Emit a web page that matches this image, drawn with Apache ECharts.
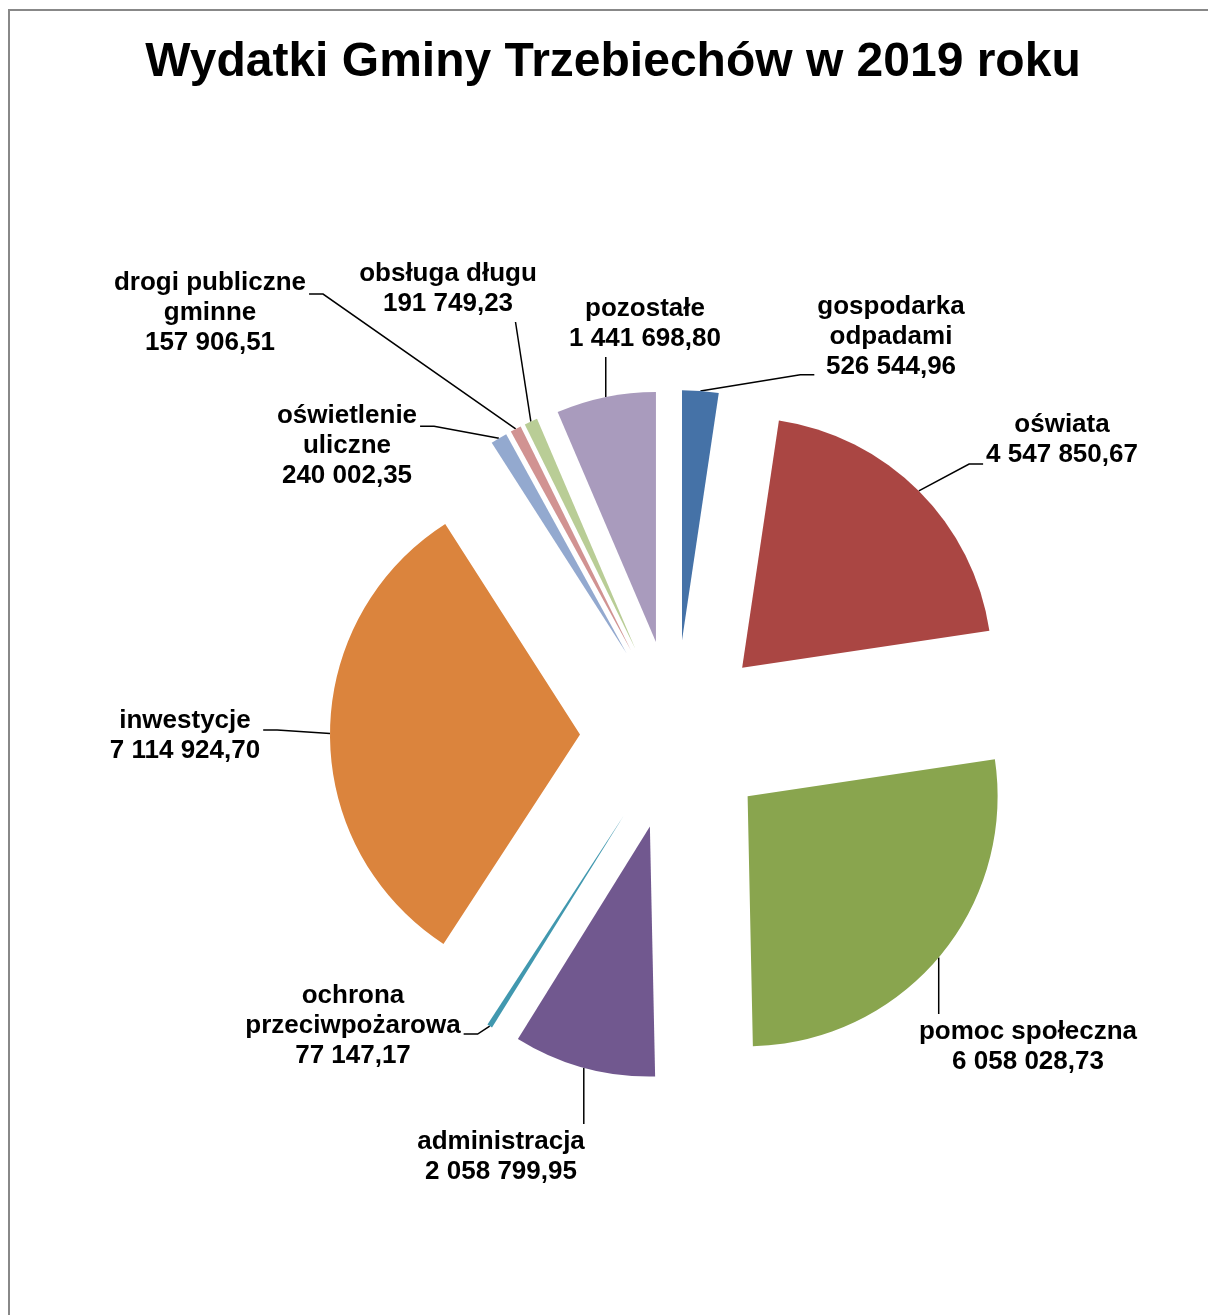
<!DOCTYPE html>
<html>
<head>
<meta charset="utf-8">
<script src="https://cdn.jsdelivr.net/npm/echarts@6/dist/echarts.min.js"></script>
<style>
  html, body { margin: 0; padding: 0; background: #fff; overflow: hidden; }
  #frame { position: absolute; left: 8px; top: 9px; width: 1300px; height: 1400px;
           border-left: 2px solid #888; border-top: 2px solid #888; }
  #main { position: absolute; left: 0; top: 0; width: 1208px; height: 1315px; }
</style>
</head>
<body>
<div id="frame"></div>
<div id="main"></div>
<script>
// dane wydatków 2019
var categories = ['gospodarka\nodpadami', 'oświata', 'pomoc społeczna', 'administracja',
  'ochrona\nprzeciwpożarowa', 'inwestycje', 'oświetlenie\nuliczne', 'drogi publiczne\ngminne',
  'obsługa długu', 'pozostałe'];
var values = [526544.96, 4547850.67, 6058028.73, 2058799.95, 77147.17,
  7114924.70, 240002.35, 157906.51, 191749.23, 1441698.80];

// wygląd
var colors = ['#4572A7', '#AA4643', '#89A54E', '#71588F', '#4198AF',
  '#DB843D', '#93A9CF', '#D19392', '#B9CD96', '#A99BBD'];
// środki etykiet (px)
var labelPos = [[891, 337], [1062, 440], [1028, 1047], [501, 1157], [353, 1026],
  [185, 736], [347, 446], [210, 313], [448, 289], [645, 324]];
// gdzie linia dochodzi do etykiety: strona + ułamek wzdłuż boku
var labelAttach = [['left', 0.92], ['left', 0.9], ['top'], ['top'], ['right', 0.59],
  ['right', 0.4], ['right', 0.28], ['right', 0.29], ['bottom', 0.88], ['bottom']];

var pieCenter = [675, 735];
var pieRadius = 250;
var explode = 95;

function fmt(v) {
  var parts = v.toFixed(2).split('.');
  return parts[0].replace(/\B(?=(\d{3})+(?!\d))/g, ' ') + ',' + parts[1];
}

var chart = echarts.init(document.getElementById('main'), null, { renderer: 'canvas' });

function layoutLabel(params) {
  var i = params.dataIndex;
  var pos = labelPos[i];
  var w = params.labelRect.width, h = params.labelRect.height;
  var left = pos[0] - w / 2, right = pos[0] + w / 2;
  var top = pos[1] - h / 2, bottom = pos[1] + h / 2;
  var a = params.labelLinePoints ? params.labelLinePoints[0] : null;
  var res = { x: pos[0], y: pos[1], align: 'center', verticalAlign: 'middle' };
  if (!a) return res;
  var side = labelAttach[i][0], f = labelAttach[i][1];
  var gap = 3, stub = 14;
  if (side === 'left' || side === 'right') {
    var ey = top + h * f;
    var ex = side === 'left' ? left - gap : right + gap;
    var sx = side === 'left' ? ex - stub : ex + stub;
    res.labelLinePoints = [[a[0], a[1]], [sx, ey], [ex, ey]];
  } else {
    var exx = f != null ? left + w * f : Math.min(Math.max(a[0], left), right);
    var end = side === 'top' ? top - gap : bottom + gap;
    res.labelLinePoints = [[a[0], a[1]], [exx, end], [exx, end]];
  }
  return res;
}

var option = {
  animation: false,
  backgroundColor: 'transparent',
  title: {
    text: 'Wydatki Gminy Trzebiechów w 2019 roku',
    left: 608,
    top: 34,
    textAlign: 'center',
    textStyle: {
      fontFamily: 'Liberation Sans, Arial, sans-serif',
      fontWeight: 'bold',
      fontSize: 48,
      color: '#000'
    }
  },
  series: [
    {
      // wycinki (rozsunięte)
      type: 'pie',
      center: pieCenter,
      radius: pieRadius,
      startAngle: 90,
      clockwise: true,
      selectedMode: 'multiple',
      selectedOffset: explode,
      silent: true,
      itemStyle: { borderWidth: 0 },
      label: { show: false },
      labelLine: { show: false },
      emphasis: { disabled: true },
      select: { itemStyle: { borderWidth: 0 } },
      data: categories.map(function (name, i) {
        return { name: name, value: values[i], selected: true, itemStyle: { color: colors[i] } };
      })
    },
    {
      // etykiety z liniami odniesienia
      type: 'pie',
      center: pieCenter,
      radius: pieRadius + explode,
      startAngle: 90,
      clockwise: true,
      silent: true,
      avoidLabelOverlap: false,
      itemStyle: { color: 'rgba(0,0,0,0)', borderWidth: 0 },
      emphasis: { disabled: true },
      label: {
        show: true,
        position: 'outside',
        color: '#000',
        fontFamily: 'Liberation Sans, Arial, sans-serif',
        fontWeight: 'bold',
        fontSize: 26,
        lineHeight: 30,
        align: 'center',
        formatter: function (p) { return p.name + '\n' + fmt(p.value); }
      },
      labelLine: {
        show: true,
        length: 10,
        length2: 14,
        smooth: false,
        lineStyle: { color: '#000', width: 1.5 }
      },
      labelLayout: layoutLabel,
      data: categories.map(function (name, i) {
        return { name: name, value: values[i] };
      })
    }
  ]
};

chart.setOption(option);
</script>
</body>
</html>
